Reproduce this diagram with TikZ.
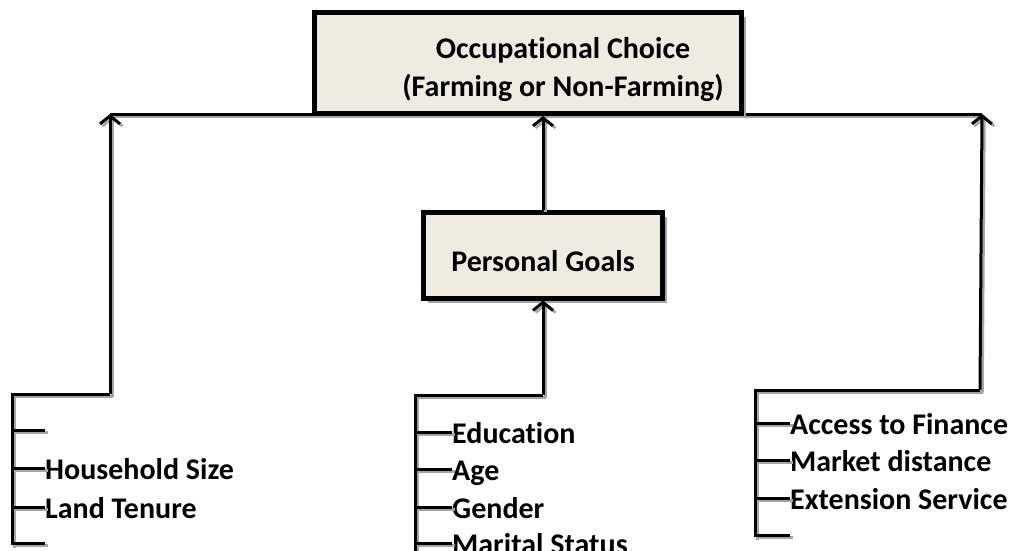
\documentclass[tikz,border=0pt]{standalone}
\usepackage{fontspec}
\setmainfont{Carlito}[Ligatures=NoCommon]
\usetikzlibrary{shadows}
\usetikzlibrary{arrows.meta}
\definecolor{boxfill}{RGB}{238,236,225}
\definecolor{shade}{RGB}{165,165,165}

\begin{document}
\begin{tikzpicture}[x=1pt,y=1pt,>={Straight Barb[length=8pt,width=20pt]}]
	\tikzstyle{every node}=[font=\fontsize{30}{38}\selectfont\bfseries]
	\tikzstyle{mainbox}=[draw,line width=5pt,fill=boxfill,drop shadow={shadow xshift=4.5pt,shadow yshift=-4.5pt,fill=shade,opacity=1}]
	\tikzstyle{link}=[line width=3pt,preaction={draw=shade,line width=2.5pt,transform canvas={shift={(2.5pt,-2.5pt)}}}]
	\tikzstyle{item}=[anchor=west,inner sep=0pt,text height=22pt,text depth=0pt]
	
	\useasboundingbox (0,0) rectangle (1015,-551);
	\clip (0,0) rectangle (1015,-551);
	
	\coordinate (hl) at (110,-114);
	\coordinate (hr) at (982,-114);
	\draw[link] (hl) -- (hr);
	
	\node[mainbox,minimum width=427,minimum height=101] (choice) at (528,-63) {};
	\node[align=center] (choicetext) at (563,-70) {Occupational Choice\\(Farming or Non-Farming)};
	\node[mainbox,minimum width=239,minimum height=86,text height=32pt,text depth=0pt] (goals) at (543,-255) {Personal Goals};
	
	% left group
	\coordinate (left) at (110,-394);
	\draw[link] (left) -- (12,-394) -- (12,-545);
	\draw[link,->] (left) -- (hl);
	\foreach \y/\name/\txt in {430/l1/,468/l2/Household Size,507/l3/Land Tenure,543/l4/}{
		\node[item] (\name) at (45,-\y) {\txt};
		\draw[link] (12,-\y) -- (\name.west);
	}
	
	% middle group
	\coordinate (mid) at (543,-395);
	\draw[link] (mid) -- (415,-395) -- (415,-560);
	\draw[link,->] (mid) -- (goals.south);
	\draw[link,->] (goals.north) -- (goals.north |- choice.south);
	\foreach \y/\name/\txt in {432/m1/Education,469/m2/Age,507/m3/Gender,543/m4/Marital Status}{
		\node[item] (\name) at (452,-\y) {\txt};
		\draw[link] (415,-\y) -- (\name.west);
	}
	
	% right group
	\coordinate (right) at (980,-390);
	\draw[link] (right) -- (755,-390) -- (755,-537);
	\draw[link,->] (right) -- (hr);
	\foreach \y/\name/\txt in {423/r1/Access to Finance,460/r2/Market distance,498/r3/Extension Service,535/r4/}{
		\node[item] (\name) at (790,-\y) {\txt};
		\draw[link] (755,-\y) -- (\name.west);
	}
\end{tikzpicture}
\end{document}
